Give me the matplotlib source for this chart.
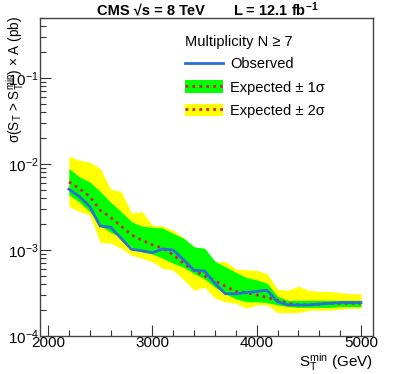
#!/usr/bin/env python3
# -*- coding: utf-8 -*-

#------------------------------------------------------------------------------
# IMPORT PYTHON LIBRARIES
#------------------------------------------------------------------------------

import numpy as np
import matplotlib
matplotlib.use('Agg')
import matplotlib.pyplot as plt
from matplotlib.patches import Patch
from matplotlib.lines import Line2D
from matplotlib.ticker import LogLocator, MultipleLocator, NullFormatter

#------------------------------------------------------------------------------
# SETTINGS
#------------------------------------------------------------------------------

plt.rcParams['font.family'] = ['Liberation Sans', 'DejaVu Sans']
plt.rcParams['mathtext.fontset'] = 'custom'
plt.rcParams['mathtext.rm'] = 'Liberation Sans'
plt.rcParams['mathtext.it'] = 'Liberation Sans'
plt.rcParams['mathtext.bf'] = 'Liberation Sans:bold'
plt.rcParams['mathtext.default'] = 'regular'

#------------------------------------------------------------------------------
# DATA (pb)
#------------------------------------------------------------------------------

st_min = [2200, 2300, 2400, 2500, 2600, 2700, 2800, 2900, 3000, 3100,
          3200, 3300, 3400, 3500, 3600, 3700, 3800, 3900, 4000, 4100,
          4200, 4300, 4400, 4500, 4600, 4700, 4800, 4900, 5000]

observed = [5.1e-3, 4.2e-3, 3.2e-3, 1.9e-3, 1.84e-3, 1.37e-3, 1.02e-3, 0.98e-3, 0.93e-3, 1.03e-3,
            1.0e-3, 0.77e-3, 0.58e-3, 0.57e-3, 0.41e-3, 0.31e-3, 0.31e-3, 0.32e-3, 0.33e-3, 0.34e-3,
            0.25e-3, 0.23e-3, 0.23e-3, 0.23e-3, 0.235e-3, 0.24e-3, 0.245e-3, 0.245e-3, 0.245e-3]

expected = [6.2e-3, 5.2e-3, 4.2e-3, 2.9e-3, 2.4e-3, 1.9e-3, 1.5e-3, 1.3e-3, 1.15e-3, 1.05e-3,
            0.88e-3, 0.70e-3, 0.58e-3, 0.50e-3, 0.44e-3, 0.38e-3, 0.33e-3, 0.32e-3, 0.30e-3, 0.28e-3,
            0.26e-3, 0.24e-3, 0.23e-3, 0.23e-3, 0.235e-3, 0.24e-3, 0.24e-3, 0.24e-3, 0.24e-3]

exp_1s_up = [8.9e-3, 7.1e-3, 6.2e-3, 4.8e-3, 3.6e-3, 2.8e-3, 2.14e-3, 1.9e-3, 1.84e-3, 1.8e-3,
             1.56e-3, 1.37e-3, 1.09e-3, 1.05e-3, 0.74e-3, 0.64e-3, 0.55e-3, 0.48e-3, 0.45e-3, 0.41e-3,
             0.29e-3, 0.26e-3, 0.26e-3, 0.26e-3, 0.26e-3, 0.26e-3, 0.26e-3, 0.26e-3, 0.26e-3]

exp_1s_dn = [4.4e-3, 3.6e-3, 2.8e-3, 1.95e-3, 1.6e-3, 1.42e-3, 1.09e-3, 0.95e-3, 0.9e-3, 0.8e-3,
             0.7e-3, 0.63e-3, 0.53e-3, 0.46e-3, 0.37e-3, 0.31e-3, 0.27e-3, 0.25e-3, 0.25e-3, 0.245e-3,
             0.23e-3, 0.22e-3, 0.215e-3, 0.215e-3, 0.215e-3, 0.215e-3, 0.22e-3, 0.22e-3, 0.22e-3]

exp_2s_up = [12.4e-3, 11.1e-3, 10.5e-3, 8.9e-3, 5.1e-3, 4.8e-3, 2.7e-3, 2.8e-3, 1.95e-3, 1.9e-3,
             1.7e-3, 1.38e-3, 1.09e-3, 1.0e-3, 0.72e-3, 0.74e-3, 0.6e-3, 0.59e-3, 0.58e-3, 0.53e-3,
             0.35e-3, 0.34e-3, 0.38e-3, 0.34e-3, 0.33e-3, 0.33e-3, 0.32e-3, 0.31e-3, 0.31e-3]

exp_2s_dn = [3.2e-3, 2.8e-3, 2.55e-3, 1.22e-3, 1.2e-3, 1.05e-3, 0.87e-3, 0.8e-3, 0.73e-3, 0.61e-3,
             0.58e-3, 0.45e-3, 0.34e-3, 0.37e-3, 0.275e-3, 0.25e-3, 0.24e-3, 0.21e-3, 0.23e-3, 0.23e-3,
             0.187e-3, 0.187e-3, 0.187e-3, 0.2e-3, 0.2e-3, 0.2e-3, 0.205e-3, 0.21e-3, 0.21e-3]

#------------------------------------------------------------------------------
# PLOT
#------------------------------------------------------------------------------

fig = plt.figure(figsize=(3.93, 3.74), dpi=100)
ax = fig.add_axes([40/393, 1-336/374, 333/393, 318/374])

c_blue = '#2a6fd4'
c_red = '#d0214a'

ax.fill_between(st_min, exp_2s_dn, exp_2s_up, color='#ffff00', lw=0)
ax.fill_between(st_min, exp_1s_dn, exp_1s_up, color='#00ff00', lw=0)
ax.plot(st_min, expected, color=c_red, lw=2, ls=(0, (1, 1.5)))
ax.plot(st_min, observed, color=c_blue, lw=2)

ax.set_yscale('log')
ax.set_xlim(1923, 5115)
ax.set_ylim(1e-4, 0.5)

ax.xaxis.set_major_locator(MultipleLocator(1000))
ax.xaxis.set_minor_locator(MultipleLocator(200))
ax.yaxis.set_major_locator(LogLocator(base=10))
ax.yaxis.set_minor_locator(LogLocator(base=10, subs=np.arange(2, 10)))
ax.yaxis.set_minor_formatter(NullFormatter())

ax.tick_params(which='both', direction='in', top=False, right=False, labelsize=11, color='#333333')
ax.tick_params(which='major', length=8, width=0.8)
ax.tick_params(which='minor', length=4, width=0.8)
ax.tick_params(axis='x', pad=0)
ax.tick_params(axis='y', pad=1)
for sp in ax.spines.values():
    sp.set_color('#444444')
    sp.set_linewidth(1.0)

ax.set_xlabel(r'$S_T^{min}$ (GeV)', fontsize=11, loc='right', labelpad=1)
fig.text(4/393, 1-16/374, r'σ($S_T$ > $S_T^{min}$) × A (pb)', rotation=90, fontsize=9.8,
         ha='left', va='top')

fig.text(97/393, 1-10/374, 'CMS \u221As = 8 TeV', fontsize=10.5, fontweight='bold',
         ha='left', va='center')
fig.text(233/393, 1-10/374, r'L = 12.1 fb$^{\mathbf{-1}}$', fontsize=10.5, fontweight='bold',
         ha='left', va='center')

h_obs = Line2D([], [], color=c_blue, lw=2)
h_1s = (Patch(facecolor='#00ff00', edgecolor='none'), Line2D([], [], color=c_red, lw=2, ls=(0, (1, 1.5))))
h_2s = (Patch(facecolor='#ffff00', edgecolor='none'), Line2D([], [], color=c_red, lw=2, ls=(0, (1, 1.5))))
leg = ax.legend([h_obs, h_1s, h_2s], ['Observed', 'Expected ± 1σ', 'Expected ± 2σ'],
                title='Multiplicity N \u2265 7', title_fontsize=10.5, fontsize=10.5,
                frameon=False, loc='upper left', bbox_to_anchor=(145/333, 1-17/318),
                handlelength=2.6, handleheight=0.9, handletextpad=0.5, labelspacing=0.62,
                borderaxespad=0, borderpad=0)
leg._legend_box.align = 'left'
leg._legend_box.sep = 6

fig.savefig('out.png', dpi=100)
print('** END')
